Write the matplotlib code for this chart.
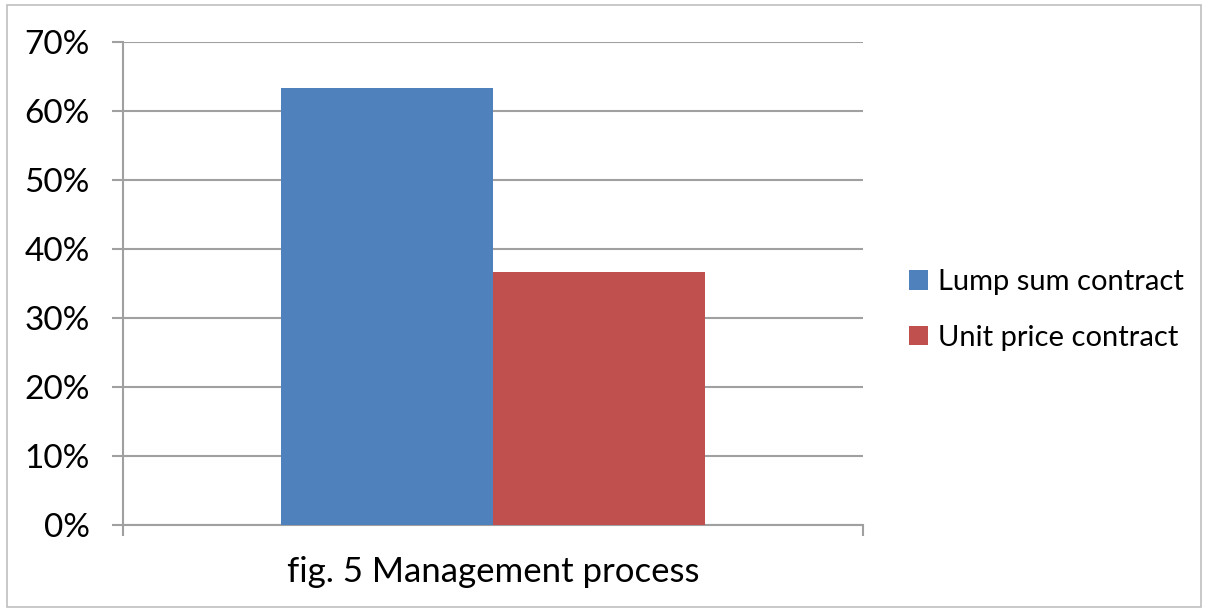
import matplotlib.pyplot as plt
from matplotlib.patches import Rectangle
from matplotlib.ticker import FuncFormatter

plt.rcParams['font.family'] = ['Lato', 'DejaVu Sans']

series = ['Lump sum contract', 'Unit price contract']
values = [63.3, 36.7]
colors = ['#4F81BD', '#C0504D']
category = 'fig. 5 Management process'
yticks = [0, 10, 20, 30, 40, 50, 60, 70]

fig = plt.figure(figsize=(12.08, 6.12), dpi=100)
ax = fig.add_axes([0.1018, 0.1422, 0.6126, 0.7892])

w = 0.286
offsets = [-w / 2, w / 2]
for name, v, c, off in zip(series, values, colors, offsets):
    ax.bar(off, v, width=w, color=c, label=name, zorder=3)

ax.set_xlim(-0.5, 0.5)
ax.set_ylim(0, 70)
ax.set_yticks(yticks)
ax.yaxis.set_major_formatter(FuncFormatter(lambda v, p: f'{v:.0f}%'))
ax.set_xticks([-0.5, 0.5])
ax.set_xticklabels(['', ''])
ax.grid(axis='y', color='#A0A0A0', linewidth=1.5, zorder=0)
for s in ['top', 'right']:
    ax.spines[s].set_visible(False)
for s in ['left', 'bottom']:
    ax.spines[s].set_color('#A0A0A0')
    ax.spines[s].set_linewidth(1.5)
ax.tick_params(axis='y', length=8, width=1.5, color='#A0A0A0', labelsize=24, pad=16)
ax.tick_params(axis='x', length=8, width=1.5, color='#A0A0A0')
ax.set_xlabel(category, fontsize=25, labelpad=11)

ax.legend(loc='center left', bbox_to_anchor=(1.027, 0.445), frameon=False, fontsize=21,
          handlelength=0.65, handleheight=0.65, handletextpad=0.35, labelspacing=1.0)

fig.patches.append(Rectangle((0.006, 0.008), 0.988, 0.984, transform=fig.transFigure,
                             fill=False, edgecolor='#BFBFBF', linewidth=1.2))

fig.savefig('out.png', dpi=100)
